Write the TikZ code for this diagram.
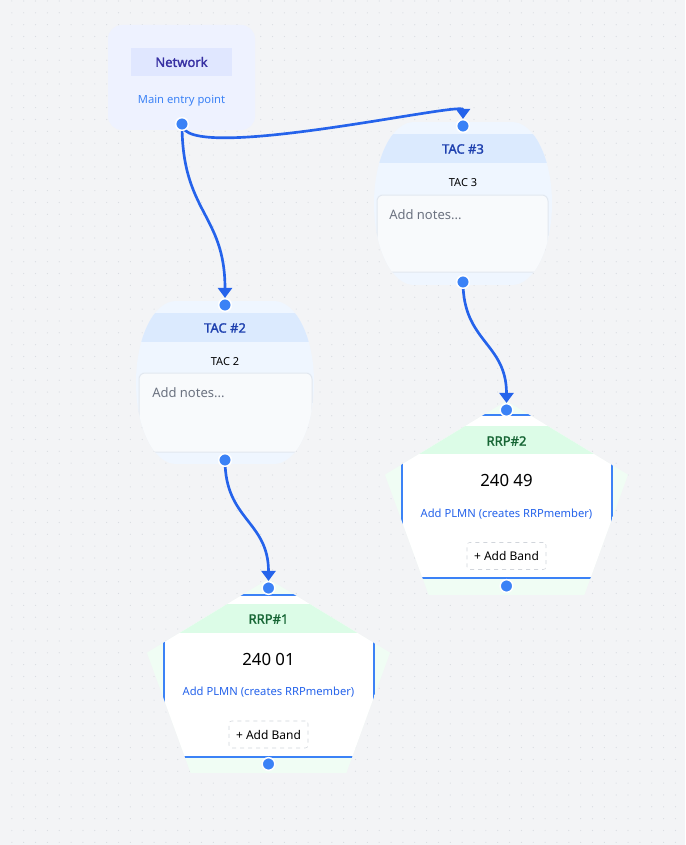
\documentclass[tikz,border=0pt]{standalone}
\usepackage{fontspec}
\setmainfont{Noto Sans}
\newfontfamily\ttlfont{Noto Sans}[FakeBold=1.6]
\usetikzlibrary{arrows.meta}

\definecolor{bg}{HTML}{F3F4F6}
\definecolor{dot}{HTML}{D9DCE1}
\definecolor{edge}{HTML}{2563EB}
\definecolor{hblue}{HTML}{3B82F6}
\definecolor{netfill}{HTML}{EEF2FF}
\definecolor{nethead}{HTML}{E0E7FF}
\definecolor{nettext}{HTML}{3730A3}
\definecolor{tacfill}{HTML}{EFF6FF}
\definecolor{tachead}{HTML}{DBEAFE}
\definecolor{tactext}{HTML}{1E40AF}
\definecolor{notefill}{HTML}{F8FAFC}
\definecolor{noteline}{HTML}{E2E8F0}
\definecolor{notetext}{HTML}{6B7280}
\definecolor{rrpfill}{HTML}{F0FDF4}
\definecolor{rrphead}{HTML}{DCFCE7}
\definecolor{rrptext}{HTML}{166534}
\definecolor{link}{HTML}{2563EB}
\definecolor{btnline}{HTML}{D1D5DB}

\pgfdeclarelayer{bg}
\pgfdeclarelayer{ln}
\pgfsetlayers{bg,ln,main}

\begin{document}
\begin{tikzpicture}
[
	x=0.75pt,y=-0.75pt,
	hd/.style={circle,fill=hblue,draw=white,line width=1.1pt,minimum size=9.5pt,inner sep=0pt},
	ed/.style={draw=edge,line width=2pt,-{Triangle[width=10.5pt,length=7.5pt]}},
	ttl/.style={inner sep=0pt,font=\ttlfont\fontsize{9.75}{12}\selectfont},
	sm/.style={inner sep=0pt,font=\fontsize{8.4}{10}\selectfont},
	xs/.style={inner sep=0pt,font=\fontsize{8.25}{10}\selectfont},
	val/.style={inner sep=0pt,font=\fontsize{12.6}{15}\selectfont},
	note/.style={inner sep=0pt,anchor=west,text=notetext,font=\fontsize{9.75}{12}\selectfont},
	btn/.style={rectangle,draw=btnline,dashed,fill=white,rounded corners=2pt,minimum width=59.25pt,minimum height=20.25pt,inner sep=0pt,font=\fontsize{9}{11}\selectfont}
]

\begin{pgfonlayer}{bg}
\fill[bg] (0,0) rectangle (685,845);
\foreach \i in {1,...,57}
	\foreach \j in {0,...,71}
		\fill[dot] (\i*11.85,1+\j*11.85) circle (0.6);

% network
\fill[netfill,rounded corners=10.5pt] (108,25) rectangle (255,130);

% tac 2
\begin{scope}
\clip (176,301) -- (274,301) arc[start angle=-90,end angle=90,x radius=40,y radius=81.5]
	-- (176,464) arc[start angle=90,end angle=270,x radius=40,y radius=81.5] -- cycle;
\fill[tacfill] (136,301) rectangle (314,464);
\fill[tachead] (136,313) rectangle (314,342);
\filldraw[fill=notefill,draw=noteline,line width=0.75pt,rounded corners=4.5pt] (139,373) rectangle (312,452);
\end{scope}

% tac 3
\begin{scope}
\clip (414,122) -- (512,122) arc[start angle=-90,end angle=90,x radius=40,y radius=81.5]
	-- (414,285) arc[start angle=90,end angle=270,x radius=40,y radius=81.5] -- cycle;
\fill[tacfill] (374,122) rectangle (552,285);
\fill[tachead] (374,134) rectangle (552,163);
\filldraw[fill=notefill,draw=noteline,line width=0.75pt,rounded corners=4.5pt] (377,195) rectangle (548,272);
\end{scope}

% rrp 1
\begin{scope}
\clip (268.5,579) -- (390,652.7) -- (346.3,773) -- (190.7,773) -- (147,652.7) -- cycle;
\fill[rrpfill] (147,579) rectangle (390,773);
\filldraw[fill=white,draw=hblue,line width=1.5pt] (163.5,595) rectangle (373.5,757);
\fill[rrphead] (164.5,604) rectangle (372.5,633);
\end{scope}

% rrp 2
\begin{scope}
\clip (506.5,401) -- (628,474.7) -- (584.3,595) -- (428.7,595) -- (385,474.7) -- cycle;
\fill[rrpfill] (385,401) rectangle (628,595);
\filldraw[fill=white,draw=hblue,line width=1.5pt] (401.5,415) rectangle (611.5,578);
\fill[rrphead] (402.5,426) rectangle (610.5,454);
\end{scope}
\end{pgfonlayer}

\node[ttl,fill=nethead,text=nettext,minimum width=75.75pt,minimum height=21pt] (n1) at (181.5,62) {Network};
\node[sm,text=hblue] (n1s) at (181.5,101) {Main entry point};
\node[hd] (hn) at (182,124) {};

\node[ttl,text=tactext] (t2) at (225,328) {TAC \#2};
\node[xs] (t2s) at (225,362) {TAC 2};
\node[note] (t2m) at (152,393) {Add notes...};
\node[hd] (t2a) at (225,305) {};
\node[hd] (t2b) at (225,460) {};

\node[ttl,text=tactext] (t3) at (463,149) {TAC \#3};
\node[xs] (t3s) at (463,183) {TAC 3};
\node[note] (t3m) at (389,215) {Add notes...};
\node[hd] (t3a) at (463,126) {};
\node[hd] (t3b) at (463,282) {};

\node[ttl,text=rrptext] (r1) at (268.5,619) {RRP\#1};
\node[val] (r1v) at (268.5,659) {240 01};
\node[sm,text=link] (r1p) at (268.5,692) {Add PLMN (creates RRPmember)};
\node[btn] (r1b) at (268.5,734.5) {+ Add Band};
\node[hd] (r1a) at (268.5,588) {};
\node[hd] (r1c) at (268.5,764) {};

\node[ttl,text=rrptext] (r2) at (506.5,441) {RRP\#2};
\node[val] (r2v) at (506.5,480) {240 49};
\node[sm,text=link] (r2p) at (506.5,514) {Add PLMN (creates RRPmember)};
\node[btn] (r2b) at (506.5,556) {+ Add Band};
\node[hd] (r2a) at (506.5,410) {};
\node[hd] (r2c) at (506.5,586) {};

\begin{pgfonlayer}{ln}
\draw[ed] (hn.center) .. controls +(0,89) and +(0,-84) .. (t2a.north);
\draw[ed] (hn.center) .. controls +(0,41) and +(0,-18) .. (t3a.north);
\draw[ed] (t3b.center) .. controls +(0,60) and +(0,-60) .. (r2a.north);
\draw[ed] (t2b.center) .. controls +(0,60) and +(0,-60) .. (r1a.north);
\end{pgfonlayer}

\end{tikzpicture}
\end{document}
